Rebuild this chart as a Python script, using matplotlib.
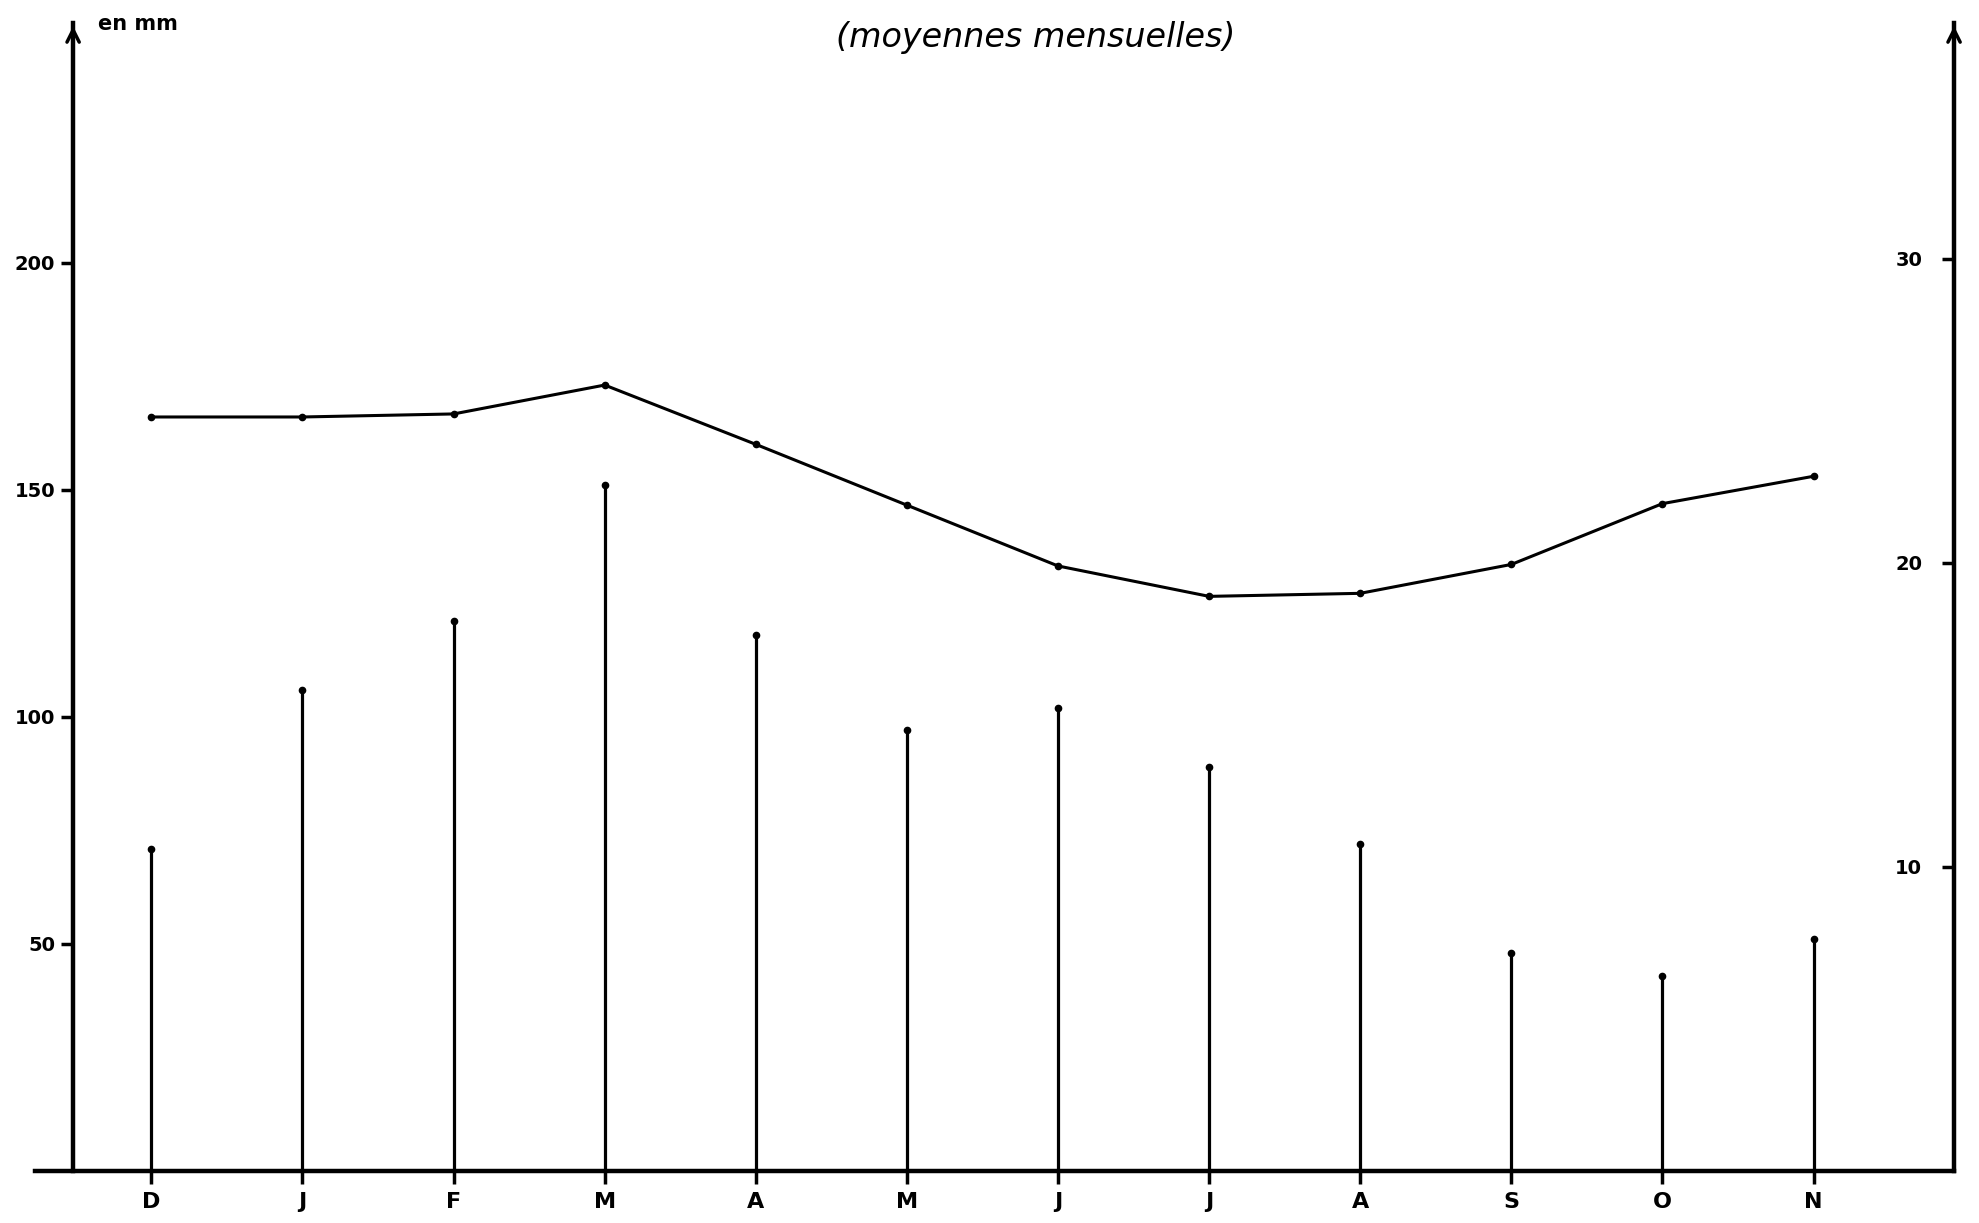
import matplotlib.pyplot as plt

# valeurs
mois = ['D', 'J', 'F', 'M', 'A', 'M', 'J', 'J', 'A', 'S', 'O', 'N']
pluie = [71, 106, 121, 151, 118, 97, 102, 89, 72, 48, 43, 51]
temp = [24.8, 24.8, 24.9, 25.85, 23.9, 21.9, 19.9, 18.9, 19.0, 19.95, 21.95, 22.85]
ticks_mm = [50, 100, 150, 200]
ticks_temp = [10, 20, 30]

plt.rcParams['font.family'] = 'DejaVu Sans'
plt.rcParams['font.weight'] = 'bold'

fig = plt.figure(figsize=(19.79, 12.23), dpi=100)
ax = fig.add_axes([0.0177, 0.0425, 0.9697, 0.9385])
ax2 = ax.twinx()

x = list(range(len(mois)))
xmin, xmax = -0.77, 11.93
xaxe = -0.518
ymax_mm = 252.7
ymax_t = 37.75

# axes
ax.spines['left'].set_position(('data', xaxe))
ax.spines['left'].set_linewidth(3.2)
ax.spines['bottom'].set_linewidth(3.2)
ax.spines['top'].set_visible(False)
ax.spines['right'].set_visible(False)
ax.yaxis.set_ticks_position('left')

ax2.yaxis.set_ticks_position('left')
ax2.spines['left'].set_position(('axes', 1.0))
ax2.spines['left'].set_linewidth(3.2)
for s in ['top', 'right', 'bottom']:
    ax2.spines[s].set_visible(False)

# précipitations : traits verticaux
ax.vlines(x, 0, pluie, color='black', lw=2.3)
ax.plot(x, pluie, 'o', color='black', ms=4.5)
ax.set_xlim(xmin, xmax)
ax.set_ylim(0, ymax_mm)
ax.set_xticks(x, mois)
ax.set_yticks(ticks_mm, [str(v) for v in ticks_mm])

# températures : axe de droite
ax2.plot(x, temp, '-o', color='black', lw=2.2, ms=4.5)
ax2.set_ylim(0, ymax_t)
ax2.set_yticks(ticks_temp, [str(v) for v in ticks_temp])

ax.tick_params(axis='x', direction='out', length=9, width=2.5, pad=6, labelsize=16)
ax.tick_params(axis='y', direction='out', length=9, width=2.5, pad=4, labelsize=14)
ax2.tick_params(axis='y', direction='out', length=9, width=2.5, pad=14, labelsize=14)

# flèches en haut des axes
for xa in [xaxe, xmax]:
    ax.annotate('', xy=(xa, ymax_mm), xytext=(xa, ymax_mm - 8),
                arrowprops=dict(arrowstyle='->', lw=2.5, color='black',
                                mutation_scale=22),
                annotation_clip=False)

fig.text(0.0495, 0.980, 'en mm', fontsize=15, fontweight='bold', va='center')
fig.text(0.5235, 0.969, '(moyennes mensuelles)', fontsize=24, style='italic',
         fontweight='normal', ha='center', va='center')

fig.savefig('out.png', dpi=100, facecolor='white')
